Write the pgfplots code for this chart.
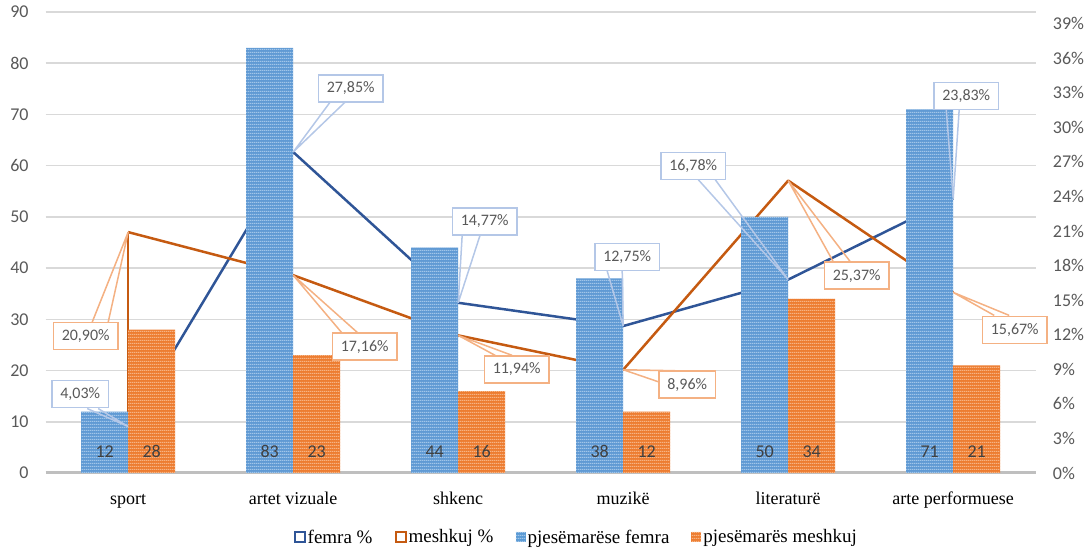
\documentclass[border=0pt]{standalone}
\usepackage{pgfplots}
\pgfplotsset{compat=1.18}
\usepackage{fontspec}
\setmainfont{Liberation Serif}
\newfontfamily\calib{Carlito}
\usetikzlibrary{patterns.meta}

\definecolor{femra}{RGB}{47,85,151}
\definecolor{meshkuj}{RGB}{197,90,17}
\definecolor{barblue}{RGB}{96,154,212}
\definecolor{barbluelt}{RGB}{162,198,233}
\definecolor{barorange}{RGB}{237,125,49}
\definecolor{barorangelt}{RGB}{246,180,133}
\definecolor{legblue}{RGB}{91,155,213}
\definecolor{legorange}{RGB}{237,125,49}
\definecolor{cblue}{RGB}{180,199,231}
\definecolor{corange}{RGB}{244,177,131}
\definecolor{gridgray}{RGB}{217,217,217}
\definecolor{axgray}{RGB}{191,191,191}
\definecolor{lblgray}{RGB}{89,89,89}
\definecolor{bargray}{RGB}{64,64,64}

\tikzdeclarepattern{
  name=hstripe,
  type=uncolored,
  bounding box={(0pt,0pt) and (2pt,3pt)},
  tile size={(2pt,3pt)},
  code={\pgfpathrectangle{\pgfpointorigin}{\pgfpoint{2pt}{1.4pt}}\pgfusepath{fill}}
}

\newcommand\callout[7]{%
  \draw[#1, line width=1.5pt] (axis cs:#2) -- ++(#5) (axis cs:#2) -- ++(#6);
  \node[callout=#1, xshift=#3, yshift=#4] at (axis cs:#2) {#7};
}

\begin{document}
\begin{tikzpicture}
\pgfplotsset{
  base/.style={width=990pt, height=461pt, scale only axis, at={(0pt,0pt)}, anchor=south west,
    xmin=-0.5, xmax=5.5, /pgf/number format/assume math mode=true,
    major tick length=0pt, tick style={draw=none}, no markers},
}
\tikzset{callout/.style={draw=#1, fill=white, line width=1.5pt, minimum height=27pt,
    inner xsep=8.5pt, inner ysep=0pt, font=\calib\fontsize{16}{16}\selectfont, text=lblgray}}

% secondary axis: percentages (lines), drawn first so bars cover them
\begin{axis}[base, ymin=0, ymax=40,
  axis x line=none, axis y line*=right, y axis line style={draw=none},
  ytick={0,3,...,39},
  yticklabels={0\%,3\%,6\%,9\%,12\%,15\%,18\%,21\%,24\%,27\%,30\%,33\%,36\%,39\%},
  yticklabel style={anchor=west, inner sep=0pt, xshift=17pt, font=\calib\fontsize{18}{18}\selectfont, text=lblgray},
  extra y ticks={4.44444,8.88889,13.33333,17.77778,22.22222,26.66667,31.11111,35.55556,40},
  extra y tick labels={},
  extra y tick style={grid=major, major grid style={gridgray, line width=1.5pt}},
]
\addplot[femra, line width=2.5pt, line join=round] coordinates
  {(0,4.03) (1,27.85) (2,14.77) (3,12.75) (4,16.78) (5,23.83)};
\addplot[meshkuj, line width=2.5pt] coordinates {(0,20.90) (0,0)};
\addplot[meshkuj, line width=2.5pt, line join=round] coordinates
  {(0,20.90) (1,17.16) (2,11.94) (3,8.96) (4,25.37) (5,15.67)};
\end{axis}

% primary axis: participants (bars)
\begin{axis}[base, ymin=0, ymax=90, ytick={0,10,...,90},
  axis y line*=left, y axis line style={draw=none},
  axis x line*=bottom, x axis line style={axgray, line width=3pt, -},
  xtick={0,...,5},
  xticklabels={sport,artet vizuale,shkenc,muzikë,literaturë,arte performuese},
  xticklabel style={anchor=north, inner sep=0pt, yshift=-19pt, text height=12pt, text depth=4pt,
    font=\fontsize{18}{20}\selectfont, text=black},
  yticklabel style={anchor=east, inner sep=0pt, xshift=-17pt, font=\calib\fontsize{18}{18}\selectfont, text=lblgray},
  bar width=0.285,
  legend columns=4,
  legend style={at={(0.536,-0.139)}, anchor=center, draw=none, fill=none,
    font=\fontsize{19}{22}\selectfont,
    /tikz/every even column/.append style={column sep=20pt}},
]
\addlegendimage{legend image code/.code={\draw[femra, line width=2pt, fill=white] (1pt,-4.5pt) rectangle (11pt,5.5pt);}}
\addlegendentry{femra \%}
\addlegendimage{legend image code/.code={\draw[meshkuj, line width=2pt, fill=white] (1pt,-4.5pt) rectangle (11pt,5.5pt);}}
\addlegendentry{meshkuj \%}
\addplot[ybar, bar shift=-0.1425, fill=barblue, draw=none,
  postaction={pattern=hstripe, pattern color=barbluelt},
  legend image code/.code={\fill[legblue] (1pt,-4.5pt) rectangle (11pt,5.5pt);}]
  coordinates {(0,12) (1,83) (2,44) (3,38) (4,50) (5,71)};
\addlegendentry{pjesëmarëse femra}
\addplot[ybar, bar shift=0.1425, fill=barorange, draw=none,
  postaction={pattern=hstripe, pattern color=barorangelt},
  legend image code/.code={\fill[legorange] (1pt,-4.5pt) rectangle (11pt,5.5pt);}]
  coordinates {(0,28) (1,23) (2,16) (3,12) (4,34) (5,21)};
\addlegendentry{pjesëmarës meshkuj}
\addplot[draw=none, forget plot, nodes near coords, point meta=explicit symbolic,
  every node near coord/.append style={anchor=center, font=\calib\fontsize{18}{18}\selectfont, text=bargray}]
  coordinates {(-0.1425,4.2)[12] (0.1425,4.2)[28] (0.8575,4.2)[83] (1.1425,4.2)[23]
    (1.8575,4.2)[44] (2.1425,4.2)[16] (2.8575,4.2)[38] (3.1425,4.2)[12]
    (3.8575,4.2)[50] (4.1425,4.2)[34] (4.8575,4.2)[71] (5.1425,4.2)[21]};
\end{axis}

% data-label callouts on top
\begin{axis}[base, ymin=0, ymax=40, hide axis, clip=false]
\addplot[draw=none] coordinates {(0,0)};
\callout{cblue}{0,4.03}{-48pt}{32.5pt}{-41pt,18pt}{-30pt,18pt}{4,03\%}
\callout{corange}{0,20.90}{-42.5pt}{-104pt}{-36pt,-90pt}{-20pt,-90pt}{20,90\%}
\callout{cblue}{1,27.85}{57.5pt}{63.5pt}{37pt,50pt}{52pt,50pt}{27,85\%}
\callout{corange}{1,17.16}{71.5pt}{-71.5pt}{49pt,-58pt}{65pt,-58pt}{17,16\%}
\callout{cblue}{2,14.77}{26.5pt}{81.5pt}{4pt,68pt}{22pt,68pt}{14,77\%}
\callout{corange}{2,11.94}{58.5pt}{-34pt}{37pt,-20pt}{54pt,-20pt}{11,94\%}
\callout{cblue}{3,12.75}{4pt}{69pt}{-16pt,55pt}{-1pt,55pt}{12,75\%}
\callout{corange}{3,8.96}{64pt}{-15pt}{52pt,-1pt}{35pt,-12pt}{8,96\%}
\callout{cblue}{4,16.78}{-95pt}{113.5pt}{-90pt,100pt}{-73pt,100pt}{16,78\%}
\callout{corange}{4,25.37}{68.5pt}{-95pt}{45pt,-81pt}{62pt,-81pt}{25,37\%}
\callout{cblue}{5,23.83}{13pt}{102.5pt}{-7pt,89pt}{6pt,89pt}{23,83\%}
\callout{corange}{5,15.67}{61.5pt}{-37.5pt}{41pt,-23pt}{56pt,-23pt}{15,67\%}
\end{axis}

\pgfresetboundingbox
\path[use as bounding box] (-45.7pt,-75pt) rectangle (1043.3pt,473pt);
\end{tikzpicture}
\end{document}
